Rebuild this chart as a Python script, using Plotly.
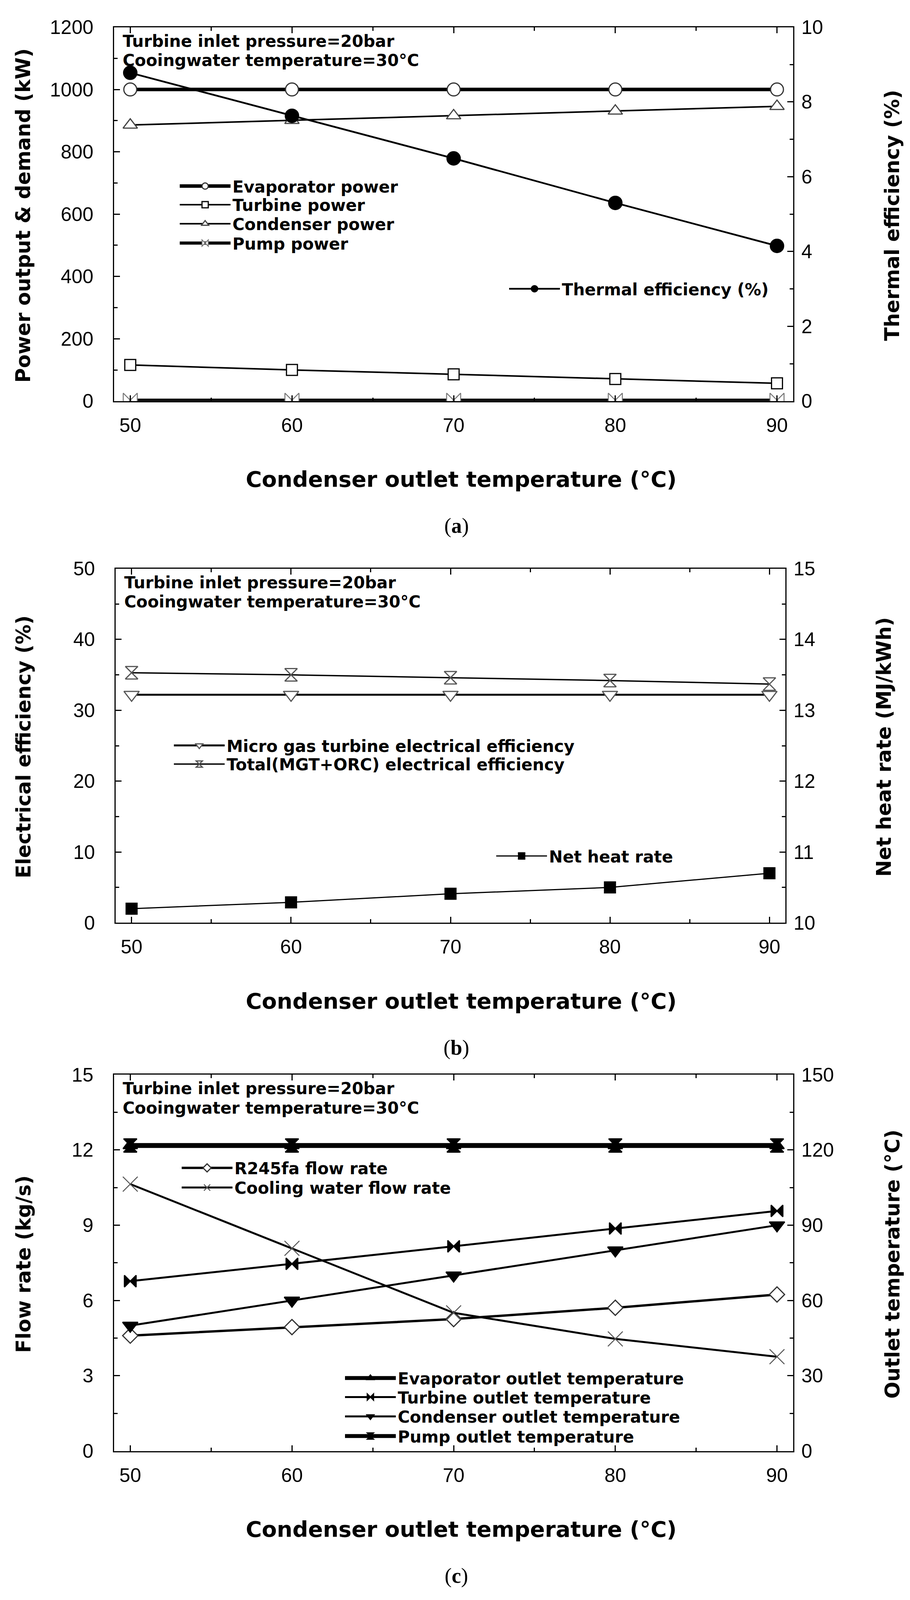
import plotly.graph_objects as go

# reference picture size; positions below are given in its pixels
W, H = 2329, 4655

# x axis: condenser outlet temperature
cond_temp = [50, 60, 70, 80, 90]

# (a) power and thermal efficiency
evaporator_power = [1000, 1000, 1000, 1000, 1000]
turbine_power = [116, 100, 86, 71, 57]
condenser_power = [886, 901, 916, 931, 946]
pump_power = [3, 3, 3, 3, 3]
thermal_eff = [8.78, 7.63, 6.49, 5.30, 4.15]

# (b) electrical efficiency and net heat rate
mgt_eff = [32.2, 32.2, 32.2, 32.2, 32.2]
total_eff = [35.3, 35.0, 34.6, 34.2, 33.7]
net_heat_rate = [10.20, 10.29, 10.41, 10.50, 10.70]

# (c) flow rates and outlet temperatures
r245fa_flow = [4.60, 4.94, 5.26, 5.71, 6.24]
cooling_flow = [10.64, 8.08, 5.51, 4.47, 3.76]
evap_out_T = [121.8, 121.8, 121.8, 121.8, 121.8]
turbine_out_T = [67.7, 74.6, 81.6, 88.7, 95.7]
cond_out_T = [50, 60, 70, 80, 90]
pump_out_T = [121.8, 121.8, 121.8, 121.8, 121.8]

SANS = "Liberation Sans, Arial, sans-serif"
WIDE = "DejaVu Sans, Arial, sans-serif"
SERIF = "Liberation Serif, Times New Roman, serif"


def px(xp, yp):
    # pixel position in the reference -> paper coords
    return xp / W, 1 - yp / H


def ydom(top, bottom):
    return [1 - bottom / H, 1 - top / H]


def xdom(left, right):
    return [left / W, right / W]


def line_trace(name, y, xa, ya, width, symbol, size, fill, edge, edgew=3):
    return go.Scatter(
        x=cond_temp, y=y, name=name, xaxis=xa, yaxis=ya,
        mode="lines+markers",
        line=dict(color="black", width=width),
        marker=dict(symbol=symbol, size=size, color=fill,
                    line=dict(color=edge, width=edgew)),
    )


# (trace, legend line start x, legend row centre y)
entries = [
    # (a)
    (line_trace("Evaporator power", evaporator_power, "x", "y",
                9, "circle", 33, "white", "#333"), 463, 518),
    (line_trace("Turbine power", turbine_power, "x", "y",
                4, "square", 28, "white", "black"), 463, 573),
    (line_trace("Condenser power", condenser_power, "x", "y",
                4, "triangle-up", 32, "white", "#444"), 463, 629),
    (line_trace("Pump power", pump_power, "x", "y",
                8, "bowtie", 36, "white", "#777", 2.5), 463, 686),
    (line_trace("Thermal efficiency (%)", thermal_eff, "x", "y2",
                4.5, "circle", 34, "black", "black"), 1306, 821),
    # (b)
    (line_trace("Micro gas turbine electrical efficiency", mgt_eff, "x2", "y3",
                5, "triangle-down", 34, "white", "#555"), 448, 2168),
    (line_trace("Total(MGT+ORC) electrical efficiency", total_eff, "x2", "y3",
                3.5, "hourglass", 32, "white", "#555"), 448, 2223),
    (line_trace("Net heat rate", net_heat_rate, "x2", "y4",
                3, "square", 28, "black", "black"), 1273, 2494),
    # (c)
    (line_trace("R245fa flow rate", r245fa_flow, "x3", "y5",
                6, "diamond", 30, "white", "#333"), 468, 3414),
    (line_trace("Cooling water flow rate", cooling_flow, "x3", "y5",
                5, "x-thin-open", 38, "#555", "#555", 2.5), 468, 3472),
    (line_trace("Evaporator outlet temperature", evap_out_T, "x3", "y6",
                12, "triangle-up", 32, "black", "black"), 886, 4034),
    (line_trace("Turbine outlet temperature", turbine_out_T, "x3", "y6",
                5, "bowtie", 30, "black", "black"), 886, 4090),
    (line_trace("Condenser outlet temperature", cond_out_T, "x3", "y6",
                5, "triangle-down", 34, "black", "black"), 886, 4147),
    (line_trace("Pump outlet temperature", pump_out_T, "x3", "y6",
                12, "hourglass", 34, "black", "black"), 886, 4205),
]

legend_font = dict(family=WIDE, size=42, color="black", weight="bold")


def legend_at(xp, yp):
    x, y = px(xp - 8, yp)
    return dict(x=x, y=y, xanchor="left", yanchor="middle",
                bgcolor="rgba(0,0,0,0)", borderwidth=0, font=legend_font,
                itemwidth=130, tracegroupgap=0)


fig = go.Figure()
legends = {}
for i, (tr, lx, ly) in enumerate(entries):
    key = "legend" if i == 0 else "legend%d" % (i + 1)
    tr.legend = key
    fig.add_trace(tr)
    legends[key] = legend_at(lx, ly)
fig.update_layout(**legends)

tickfont = dict(family=SANS, size=50, color="black")


def xaxis(dom, anchor):
    return dict(domain=dom, anchor=anchor, range=[49, 91], tick0=50, dtick=10,
                showline=True, linecolor="black", linewidth=3, mirror="ticks",
                ticks="inside", ticklen=15, tickwidth=3, tickcolor="black",
                minor=dict(tick0=50, dtick=5, ticks="inside", ticklen=9,
                           tickwidth=3, tickcolor="black"),
                showgrid=False, zeroline=False, tickfont=tickfont,
                ticklabelstandoff=16)


def yleft(dom, anchor, rng, dt):
    return dict(domain=dom, anchor=anchor, range=rng, dtick=dt, tick0=rng[0],
                showline=True, linecolor="black", linewidth=3,
                ticks="inside", ticklen=15, tickwidth=3, tickcolor="black",
                minor=dict(dtick=dt / 2, ticks="inside", ticklen=9,
                           tickwidth=3, tickcolor="black"),
                showgrid=False, zeroline=False, tickfont=tickfont,
                ticklabelstandoff=40)


def yright(over, anchor, rng, dt):
    d = yleft([0, 1], anchor, rng, dt)
    d.pop("domain")
    d.update(overlaying=over, side="right", ticklabelstandoff=8)
    return d


A = (49, 1152)
B = (1646, 2691)
C = (3139, 4249)

fig.update_layout(
    xaxis=xaxis(xdom(292, 2030), "y"),
    yaxis=yleft(ydom(*A), "x", [0, 1200], 200),
    yaxis2=yright("y", "x", [0, 10], 2),
    xaxis2=xaxis(xdom(296, 2010), "y3"),
    yaxis3=yleft(ydom(*B), "x2", [0, 50], 10),
    yaxis4=yright("y3", "x2", [10, 15], 1),
    xaxis3=xaxis(xdom(292, 2030), "y5"),
    yaxis5=yleft(ydom(*C), "x3", [0, 15], 3),
    yaxis6=yright("y5", "x3", [0, 150], 30),
)

annotations = []


def note(text, xp, yp, font, xanchor="center", yanchor="middle", angle=0):
    x, y = px(xp, yp)
    annotations.append(dict(text=text, x=x, y=y, xref="paper", yref="paper",
                            xanchor=xanchor, yanchor=yanchor, textangle=angle,
                            showarrow=False, font=font))


ytitle = dict(family=WIDE, size=51, color="black", weight="bold")
xtitle = dict(family=WIDE, size=56, color="black", weight="bold")
cond = dict(family=WIDE, size=42, color="black", weight="bold")
label = dict(family=SERIF, size=54, color="black")

panels = [
    (A, 292, "Power output &amp; demand (kW)", "Thermal efficiency (%)", 2284, "a"),
    (B, 296, "Electrical efficiency (%)", "Net heat rate (MJ/kWh)", 2262, "b"),
    (C, 292, "Flow rate (kg/s)", "Outlet temperature (°C)", 2284, "c"),
]
for (top, bottom), left, lt, rt, rx, tag in panels:
    mid = (top + bottom) / 2
    note(lt, 60, mid + 4, ytitle, angle=-90)
    note(rt, rx, mid + 4, ytitle, angle=-90)
    note("Condenser outlet temperature (°C)", 1180, bottom + 230, xtitle)
    note("Turbine inlet pressure=20bar", left + 20, top + 41, cond, xanchor="left")
    note("Cooingwater temperature=30°C", left + 20, top + 98, cond, xanchor="left")
    note("(<b>" + tag + "</b>)", 1168, bottom + 368, label)

fig.update_layout(
    annotations=annotations,
    autosize=True,
    margin=dict(l=0, r=0, t=0, b=0),
    paper_bgcolor="white", plot_bgcolor="white",
    showlegend=True,
)

# fill the browser window, whatever its inner size turns out to be
fig.write_html(
    "out.html",
    default_width="100vw",
    default_height="100vh",
    config={"displayModeBar": False},
    post_script="document.body.style.margin='0';"
                "document.body.style.overflow='hidden';"
                "Plotly.Plots.resize(document.getElementById('{plot_id}'));",
)
